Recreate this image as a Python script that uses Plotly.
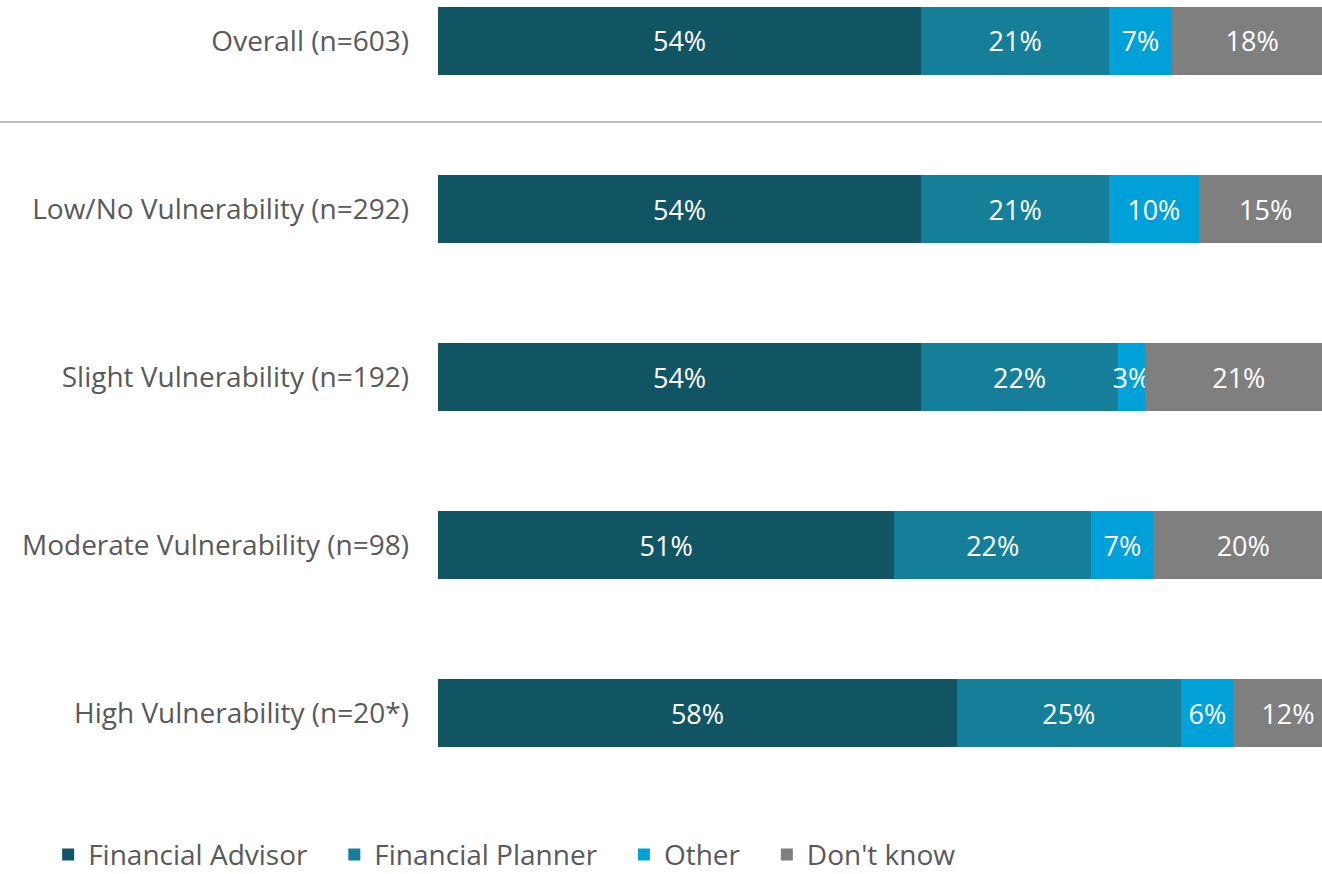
import plotly.graph_objects as go

# Survey groups (top to bottom) and the share of each answer, in percent
groups = [
    "Overall (n=603)",
    "Low/No Vulnerability (n=292)",
    "Slight Vulnerability (n=192)",
    "Moderate Vulnerability (n=98)",
    "High Vulnerability (n=20*)",
]
financial_advisor = [54, 54, 54, 51, 58]
financial_planner = [21, 21, 22, 22, 25]
other = [7, 10, 3, 7, 6]
dont_know = [18, 15, 21, 20, 12]

series = [
    ("Financial Advisor", financial_advisor, "#115565"),
    ("Financial Planner", financial_planner, "#157F9A"),
    ("Other", other, "#00A0D8"),
    ("Don't know", dont_know, "#7F7F7F"),
]

FONT = "Open Sans"
TEXT_GREY = "#595959"
PAD = "\u00a0" * 3  # extra room after each legend entry

fig = go.Figure()
for name, values, color in series:
    fig.add_trace(go.Bar(
        name=name + PAD,
        y=groups,
        x=values,
        orientation="h",
        marker=dict(color=color, line=dict(width=0)),
        width=0.405,
        text=[f"{v}%" for v in values],
        textposition="inside",
        insidetextanchor="middle",
        textangle=0,
        constraintext="none",
        textfont=dict(family=FONT, size=27, color="white"),
        hoverinfo="skip",
    ))

fig.update_layout(
    barmode="stack",
    width=1322,
    height=874,
    margin=dict(l=438, r=0, t=0, b=84, autoexpand=False),
    paper_bgcolor="white",
    plot_bgcolor="white",
    font=dict(family=FONT, color=TEXT_GREY),
    showlegend=True,
    legend=dict(
        orientation="h",
        x=-0.441,
        xanchor="left",
        y=-0.082,
        yanchor="middle",
        font=dict(family=FONT, size=28, color=TEXT_GREY),
        traceorder="normal",
        itemclick=False,
    ),
    xaxis=dict(
        range=[0, 98.8],
        showgrid=False,
        zeroline=False,
        showticklabels=False,
        showline=False,
    ),
    yaxis=dict(
        type="category",
        categoryorder="array",
        categoryarray=groups,
        range=[4.458, -0.244],
        showgrid=False,
        zeroline=False,
        showline=False,
        ticks="",
        ticklabelstandoff=28,
        tickfont=dict(family=FONT, size=28, color=TEXT_GREY),
    ),
    shapes=[
        # divider between the overall figure and the breakdown
        dict(
            type="line",
            xref="paper",
            yref="y",
            x0=-0.5,
            x1=1,
            y0=0.482,
            y1=0.482,
            line=dict(color="#BFBFBF", width=2),
            layer="above",
        )
    ],
)

fig.write_html("out.html")
